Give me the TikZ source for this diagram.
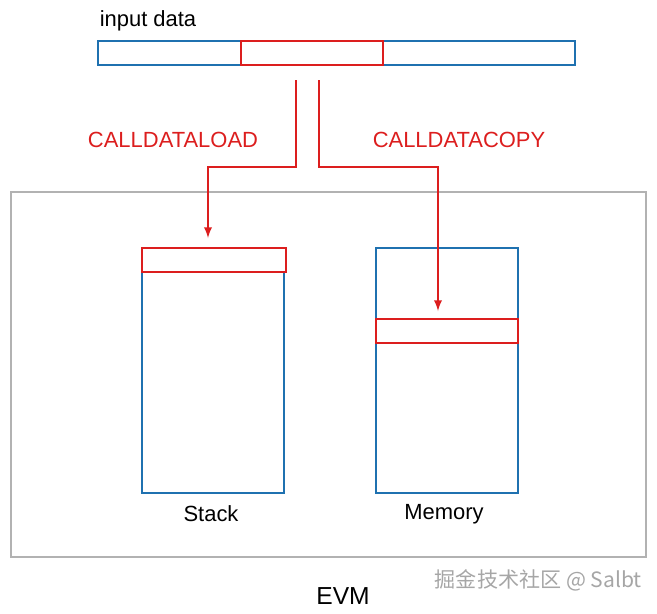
\documentclass[tikz,border=0pt]{standalone}
\usepackage{fontspec}
\setmainfont{Liberation Sans}
\newfontfamily\cjk{Noto Sans CJK SC}
\usetikzlibrary{calc}
\definecolor{evmblue}{RGB}{31,113,176}
\definecolor{evmred}{RGB}{220,30,30}
\begin{document}
\begin{tikzpicture}[x=0.02cm, y=-0.02cm,
    every node/.style={font=\fontsize{12.5}{15}\selectfont},
    cell/.style={draw, line width=1.1pt, inner sep=0, anchor=north west},
    flow/.style={evmred, line width=1.1pt, -latex}]
        \useasboundingbox (0,0) rectangle (657,613);
        % input data
        \node[cell, evmblue, minimum width=477*0.02cm, minimum height=24*0.02cm] (input) at (97,40) {};
        \node[cell, evmred, minimum width=142*0.02cm, minimum height=24*0.02cm] (word) at (240,40) {};
        \node (inlabel) at (148,21) {input data};
        % EVM
        \node[cell, gray!60, line width=1pt, minimum width=635*0.02cm, minimum height=365*0.02cm] (evm) at (10,191) {};
        \node[cell, evmblue, minimum width=142*0.02cm, minimum height=245*0.02cm] (stack) at (141,247) {};
        \node[cell, evmblue, minimum width=142*0.02cm, minimum height=245*0.02cm] (memory) at (375,247) {};
        \node[cell, evmred, fill=white, minimum width=144*0.02cm, minimum height=24*0.02cm] (top) at (141,247) {};
        \node[cell, evmred, fill=white, minimum width=142*0.02cm, minimum height=24*0.02cm] (slot) at (375,318) {};
        \node (stacklabel) at (211,514) {Stack};
        \node (memlabel) at (444,514) {Memory};
        \node[font=\fontsize{14}{16}\selectfont] (evmlabel) at (343,596) {EVM};
        % opcodes
        \coordinate (loadin) at (296,80);
        \coordinate (copyin) at (319,80);
        \coordinate (loadout) at (208,238);
        \coordinate (copyout) at (438,311);
        \draw[flow] (loadin) |- (208,167) -- (loadout);
        \draw[flow] (copyin) |- (438,167) -- (copyout);
        \node[evmred] (load) at (173,140) {CALLDATALOAD};
        \node[evmred] (copy) at (459,140) {CALLDATACOPY};
        \node[gray!70, anchor=east, font=\cjk\fontsize{12}{14}\selectfont] (mark) at (648,580) {掘金技术社区 @ Salbt};
    \end{tikzpicture}
\end{document}
